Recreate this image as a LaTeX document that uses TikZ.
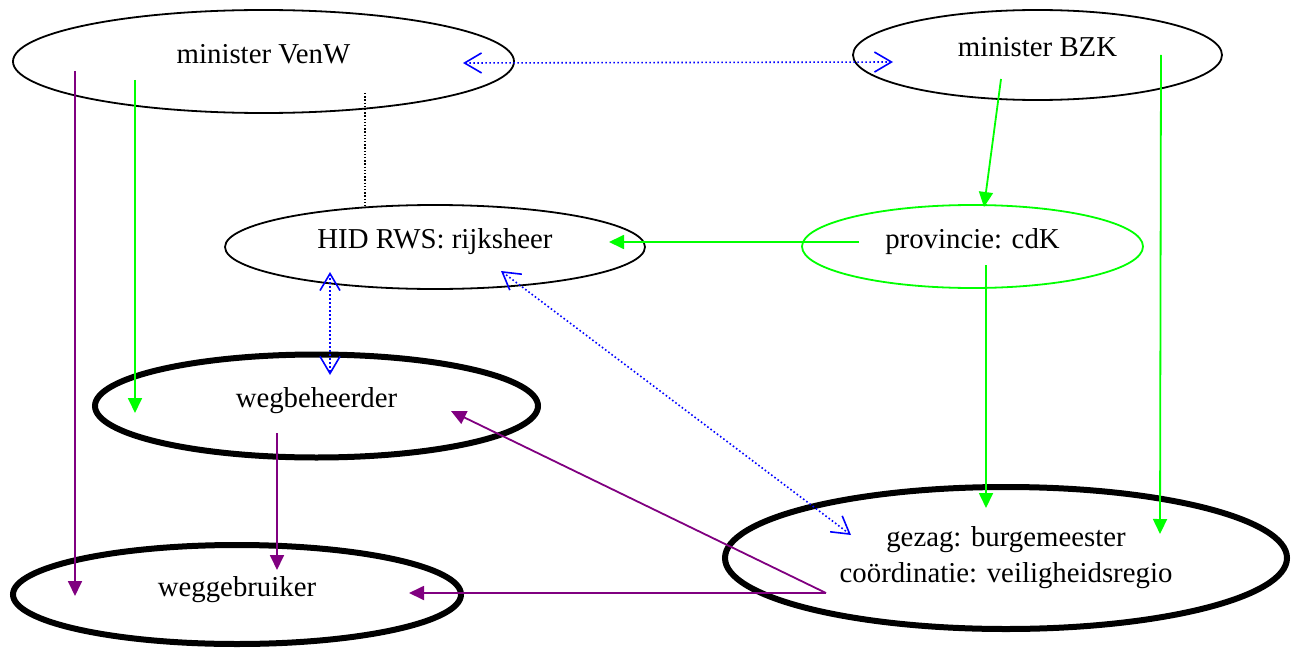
\documentclass[tikz,border=0pt]{standalone}
\usepackage{fontspec}
\setmainfont{Liberation Serif}
\usetikzlibrary{shapes}
\usetikzlibrary{calc}
\usetikzlibrary{arrows.meta}
\definecolor{lawn}{RGB}{0,255,0}
\definecolor{plum}{RGB}{128,0,128}
\tikzset{actor/.style={ellipse, draw, inner sep=0pt, font=\fontsize{28.8}{36}\selectfont, align=center}}
\tikzset{flow/.style={line width=1.8pt, -{Triangle[length=15pt,width=14pt]}}}
\tikzset{link/.style={draw=blue, line width=1.6pt, dash pattern=on 1.6pt off 2.4pt,
  {Straight Barb[length=17pt,width=20pt,line width=1.6pt]}-{Straight Barb[length=17pt,width=20pt,line width=1.6pt]}}}
\tikzset{tie/.style={draw=black, line width=1.4pt, dash pattern=on 1.4pt off 1.8pt}}

\begin{document}
\begin{tikzpicture}[x=1pt,y=-1pt]
  \useasboundingbox (0,0) rectangle (1292,650);
  \foreach \x/\y/\w/\h/\lw/\col/\nm/\lab in {
    263.5/61.5/501/103/1.8/black/venw/minister VenW,
    1037.5/55/369/90/1.8/black/bzk/minister BZK,
    435/247/420/84/1.8/black/hid/HID RWS: rijksheer,
    972.5/246.5/341/83/1.8/lawn/prov/provincie: cdK,
    316.5/406/443/103/6/black/wegb/wegbeheerder,
    237/594.5/448/99/6/black/wegg/weggebruiker%
  } {
    \node[actor, draw=\col, line width=\lw pt, minimum width=\w pt, minimum height=\h pt, text depth=16pt] (\nm) at (\x, \y) {\lab};
  }
  \node[actor, line width=6pt, minimum width=562pt, minimum height=142pt] (gezag) at (1006, 558)
    {gezag: burgemeester\\coördinatie: veiligheidsregio};

  % arrow ends inside the ellipses
  \foreach \nm/\at/\dx/\dy in {
    venwB/venw/199.5/1.5, bzkB/bzk/-144.5/7,
    venwT/venw/101.5/31.5, hidT/hid/-70/-40,
    hidB/hid/-105/25, wegbB/wegb/13.5/-31,
    hidD/hid/66/24, gezagD/gezag/-155/-23,
    venwG/venw/-128.5/18.5, wegbG/wegb/-181.5/7,
    venwP/venw/-188.5/9.5, weggP/wegg/-162/1.5,
    bzkG/bzk/-36.5/24, provG/prov/11.5/-39.5,
    bzkR/bzk/123.5/0, gezagR/gezag/154/-24,
    provD/prov/13.5/18.5, gezagG/gezag/-20/-50,
    provL/prov/-113.5/-4.5, hidL/hid/174/-5,
    wegbP/wegb/-39.5/27, weggT/wegg/40/-24.5,
    gezagP/gezag/-180/35, weggR/wegg/172/-1.5,
    wegbR/wegb/134.5/5%
  } {
    \coordinate (\nm) at ($(\at)+(\dx, \dy)$);
  }

  \foreach \u/\v/\col in {
    venwG/wegbG/lawn,
    bzkG/provG/lawn,
    bzkR/gezagR/lawn,
    provD/gezagG/lawn,
    provL/hidL/lawn,
    venwP/weggP/plum,
    wegbP/weggT/plum,
    gezagP/weggR/plum,
    gezagP/wegbR/plum%
  }{
    \draw[flow, draw=\col] (\u) -- (\v);
  }
  \foreach \u/\v in {venwB/bzkB, hidB/wegbB, hidD/gezagD} {
    \draw[link] (\u) -- (\v);
  }
  \draw[tie] (venwT) -- (hidT);
\end{tikzpicture}
\end{document}
